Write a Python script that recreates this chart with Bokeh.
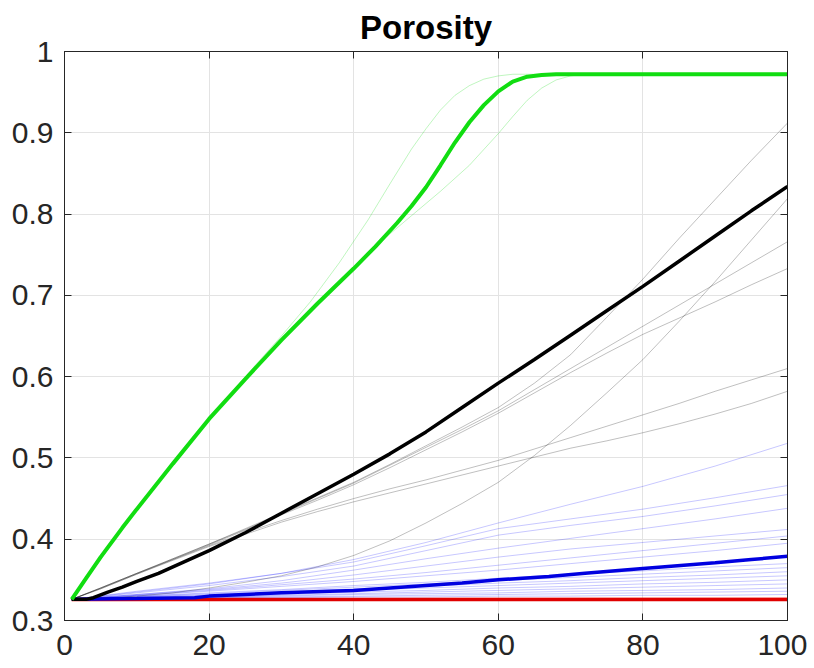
from bokeh.plotting import figure
from bokeh.models import Range1d, FixedTicker, LinearAxis
from bokeh.embed import file_html
from bokeh.resources import INLINE

# ---------------- data ----------------
title_text = "Porosity"
x_ticks = [0, 20, 40, 60, 80, 100]
x_tick_labels = ["0", "20", "40", "60", "80", "100"]
y_ticks = [0.3, 0.4, 0.5, 0.6, 0.7, 0.8, 0.9, 1.0]
y_tick_labels = ["0.3", "0.4", "0.5", "0.6", "0.7", "0.8", "0.9", "1"]

# thin light-blue realisations
x_lb = [1, 10, 20, 30, 40, 50, 60, 70, 80, 90, 100]
lb_1 = [0.326, 0.335, 0.345, 0.358, 0.375, 0.396, 0.420, 0.443, 0.465, 0.490, 0.518]
lb_2 = [0.326, 0.336, 0.346, 0.358, 0.372, 0.392, 0.413, 0.425, 0.437, 0.451, 0.466]
lb_3 = [0.326, 0.334, 0.343, 0.354, 0.367, 0.386, 0.405, 0.417, 0.428, 0.441, 0.455]
lb_4 = [0.326, 0.332, 0.339, 0.349, 0.362, 0.376, 0.389, 0.401, 0.413, 0.425, 0.438]
lb_5 = [0.326, 0.332, 0.338, 0.346, 0.356, 0.367, 0.378, 0.388, 0.396, 0.404, 0.412]
lb_6 = [0.326, 0.331, 0.337, 0.344, 0.351, 0.359, 0.368, 0.377, 0.386, 0.395, 0.404]
lb_7 = [0.326, 0.331, 0.336, 0.342, 0.348, 0.355, 0.362, 0.370, 0.378, 0.386, 0.395]
lb_8 = [0.326, 0.330, 0.334, 0.338, 0.343, 0.347, 0.352, 0.357, 0.361, 0.366, 0.370]
lb_9 = [0.326, 0.330, 0.333, 0.337, 0.341, 0.345, 0.349, 0.353, 0.357, 0.361, 0.365]
lb_10 = [0.326, 0.329, 0.332, 0.335, 0.339, 0.342, 0.346, 0.349, 0.353, 0.356, 0.360]
lb_11 = [0.326, 0.329, 0.331, 0.334, 0.337, 0.340, 0.343, 0.346, 0.349, 0.352, 0.355]
lb_12 = [0.326, 0.328, 0.330, 0.332, 0.335, 0.337, 0.340, 0.342, 0.345, 0.347, 0.350]
lb_13 = [0.326, 0.328, 0.329, 0.331, 0.333, 0.335, 0.337, 0.339, 0.341, 0.343, 0.345]
lb_14 = [0.326, 0.328, 0.329, 0.330, 0.332, 0.333, 0.334, 0.336, 0.337, 0.338, 0.340]
lb_15 = [0.326, 0.327, 0.328, 0.329, 0.330, 0.331, 0.332, 0.333, 0.334, 0.335, 0.336]
lb_16 = [0.326, 0.327, 0.328, 0.328, 0.329, 0.329, 0.330, 0.330, 0.331, 0.331, 0.332]

# thin light-red realisations
x_lr = [1, 50, 100]
lr_1 = [0.326, 0.3275, 0.328]
lr_2 = [0.326, 0.327, 0.3272]

# thin grey realisations
x_gr = [1, 5, 10, 15, 20, 25, 30, 35, 40, 45, 50, 55, 60, 65, 70, 75, 80, 85, 90, 95, 100]
gr_1 = [0.326, 0.340, 0.358, 0.376, 0.394, 0.413, 0.432, 0.451, 0.470, 0.492, 0.515, 0.538, 0.562,
        0.592, 0.627, 0.673, 0.720, 0.770, 0.818, 0.866, 0.912]
gr_2 = [0.326, 0.340, 0.358, 0.376, 0.394, 0.412, 0.431, 0.450, 0.469, 0.491, 0.513, 0.535, 0.558,
        0.584, 0.610, 0.636, 0.662, 0.688, 0.714, 0.740, 0.766]
gr_3 = [0.326, 0.339, 0.357, 0.375, 0.393, 0.411, 0.430, 0.448, 0.467, 0.488, 0.510, 0.532, 0.555,
        0.580, 0.605, 0.629, 0.652, 0.672, 0.692, 0.713, 0.733]
gr_4 = [0.326, 0.340, 0.358, 0.375, 0.392, 0.408, 0.423, 0.437, 0.450, 0.462, 0.473, 0.485, 0.497,
        0.511, 0.525, 0.539, 0.553, 0.567, 0.582, 0.596, 0.610]
gr_5 = [0.326, 0.339, 0.357, 0.374, 0.391, 0.406, 0.421, 0.434, 0.446, 0.457, 0.468, 0.479, 0.490,
        0.501, 0.512, 0.521, 0.531, 0.542, 0.554, 0.567, 0.582]
gr_6 = [0.326, 0.327, 0.330, 0.334, 0.340, 0.347, 0.355, 0.366, 0.380, 0.398, 0.420, 0.444, 0.470,
        0.503, 0.540, 0.580, 0.621, 0.668, 0.717, 0.768, 0.819]

# thin light-green realisations
x_lg1 = [1, 10, 20, 26, 30, 34, 38, 42, 45, 48, 50, 52, 54, 56, 58, 60, 62, 100]
lg_1 = [0.326, 0.437, 0.548, 0.610, 0.650, 0.692, 0.740, 0.793, 0.837, 0.880, 0.905, 0.928, 0.946,
        0.958, 0.966, 0.970, 0.972, 0.972]
x_lg2 = [1, 10, 20, 30, 40, 44, 48, 52, 56, 60, 62, 64, 66, 68, 70, 72, 100]
lg_2 = [0.326, 0.437, 0.548, 0.645, 0.735, 0.768, 0.798, 0.828, 0.860, 0.899, 0.920, 0.940, 0.955,
        0.965, 0.970, 0.972, 0.972]

# thick summary curves
x_red = [1, 50, 100]
red = [0.3258, 0.3258, 0.3258]

x_blue = [1, 10, 18, 20, 30, 40, 50, 55, 60, 67, 72, 80, 90, 95, 100]
blue = [0.326, 0.327, 0.328, 0.330, 0.334, 0.337, 0.343, 0.346, 0.350, 0.354, 0.358, 0.364, 0.371, 0.375, 0.379]

x_black = [1, 3, 4, 6, 8, 10, 13, 16, 20, 25, 30, 35, 40, 45, 50, 55, 60, 65, 70, 75, 80, 85, 90, 95, 100]
black = [0.326, 0.326, 0.328, 0.335, 0.341, 0.348, 0.358, 0.370, 0.386, 0.408, 0.432, 0.456, 0.480,
         0.505, 0.532, 0.562, 0.592, 0.621, 0.651, 0.681, 0.711, 0.742, 0.773, 0.804, 0.834]

x_green = [1, 3, 5, 8, 10, 15, 20, 25, 30, 35, 40, 43, 46, 48, 50, 52, 54, 56, 58, 60, 62, 64, 66, 68, 100]
green = [0.326, 0.352, 0.378, 0.414, 0.437, 0.493, 0.548, 0.597, 0.645, 0.690, 0.733, 0.760, 0.789,
         0.810, 0.833, 0.860, 0.888, 0.913, 0.934, 0.951, 0.963, 0.969, 0.971, 0.972, 0.972]

light_blue_series = [lb_1, lb_2, lb_3, lb_4, lb_5, lb_6, lb_7, lb_8, lb_9, lb_10, lb_11, lb_12, lb_13, lb_14, lb_15, lb_16]
light_red_series = [lr_1, lr_2]
grey_series = [gr_1, gr_2, gr_3, gr_4, gr_5, gr_6]

# ---------------- figure ----------------
FONT = "Liberation Sans"
AX = "#262626"

p = figure(frame_width=723, frame_height=569,
           x_range=Range1d(0, 100), y_range=Range1d(0.3, 1.0),
           output_backend="svg", toolbar_location=None,
           min_border_left=64, min_border_right=20, min_border_top=50, min_border_bottom=48)

p.title.text = title_text
p.title.text_font = FONT
p.title.text_font_size = "33px"
p.title.text_font_style = "bold"
p.title.text_color = "black"
p.title.align = "center"
p.title.standoff = 12

p.background_fill_color = "white"
p.border_fill_color = "white"
p.outline_line_color = AX
p.outline_line_width = 1

xt = FixedTicker(ticks=x_ticks)
yt = FixedTicker(ticks=y_ticks)

for ax, tk, labels, so in ((p.xaxis[0], xt, x_tick_labels, 14), (p.yaxis[0], yt, y_tick_labels, 11)):
    ax.ticker = tk
    ax.major_label_overrides = dict(zip(tk.ticks, labels))
    ax.major_label_text_font = FONT
    ax.major_label_text_font_size = "30px"
    ax.major_label_text_color = AX
    ax.axis_line_color = AX
    ax.major_tick_line_color = AX
    ax.major_tick_in = 7
    ax.major_tick_out = 0
    ax.minor_tick_line_color = None
    ax.major_label_standoff = so

for side, tk in (("above", xt), ("right", yt)):
    a = LinearAxis(ticker=tk, major_label_text_font_size="1px", major_label_text_color=None,
                   major_tick_in=7, major_tick_out=0,
                   minor_tick_line_color=None, axis_line_color=AX, major_tick_line_color=AX,
                   major_label_standoff=0)
    p.add_layout(a, side)

p.xgrid.ticker = xt
p.ygrid.ticker = yt
p.grid.grid_line_color = "#e3e3e3"
p.grid.grid_line_width = 1

for s in light_blue_series:
    p.line(x_lb, s, line_color="#0000ff", line_alpha=0.22, line_width=1)
for s in light_red_series:
    p.line(x_lr, s, line_color="#ff0000", line_alpha=0.25, line_width=1)
for s in grey_series:
    p.line(x_gr, s, line_color="#000000", line_alpha=0.25, line_width=1)
p.line(x_lg1, lg_1, line_color="#00dd00", line_alpha=0.25, line_width=1)
p.line(x_lg2, lg_2, line_color="#00dd00", line_alpha=0.25, line_width=1)

p.line(x_red, red, line_color="#e00000", line_width=3.5)
p.line(x_blue, blue, line_color="#0000e0", line_width=3.5)
p.line(x_black, black, line_color="#000000", line_width=3.5)
p.line(x_green, green, line_color="#11dd11", line_width=4)

open("out.html", "w").write(file_html(p, INLINE))
